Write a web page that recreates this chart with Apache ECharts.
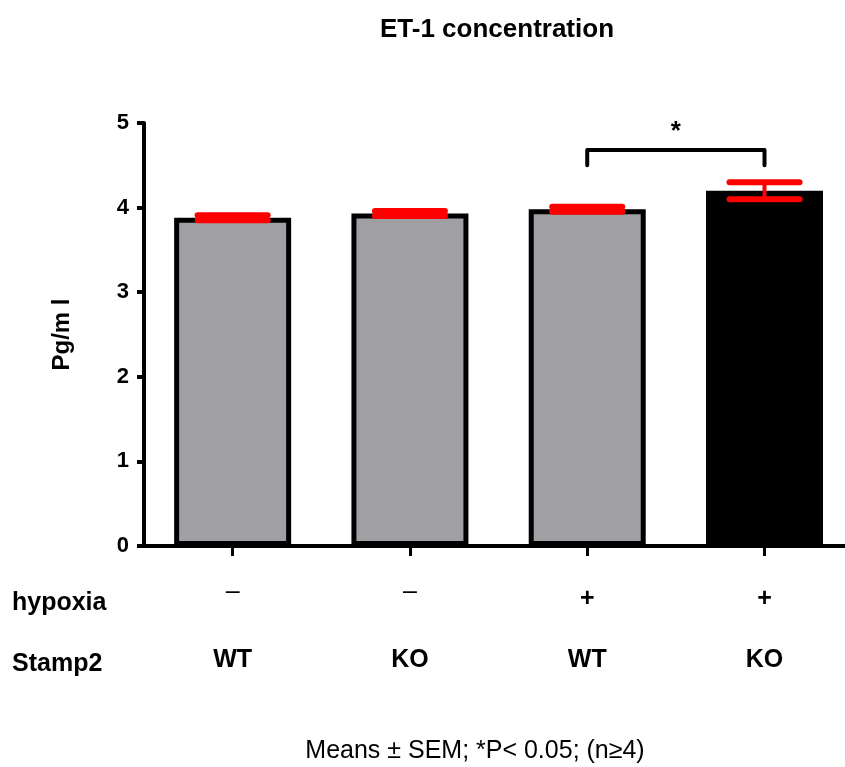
<!DOCTYPE html>
<html>
<head>
<meta charset="UTF-8">
<title>ET-1 concentration</title>
<script src="https://cdn.jsdelivr.net/npm/echarts@6/dist/echarts.min.js"></script>
<style>
  html, body {margin: 0; padding: 0; background: #fff;}
  #chart {width: 845px; height: 767px;}
</style>
</head>
<body>
<div id="chart"></div>
<script>
// data
const categories = ['WT -', 'KO -', 'WT +', 'KO +'];
const hypoxia = ['–', '–', '+', '+'];
const stamp2 = ['WT', 'KO', 'WT', 'KO'];
const means = [3.88, 3.93, 3.98, 4.20];
const sem = [0.03, 0.03, 0.03, 0.10];
const yTicks = [0, 1, 2, 3, 4, 5];
// significance bracket between bar 3 and bar 4
const bracketPair = [2, 3];
const bracketLevels = [4.50, 4.68];
const starLevel = 4.89;

const FONT = '"Liberation Sans", Arial, sans-serif';
const slots = categories.map((c, i) => i);

const chart = echarts.init(document.getElementById('chart'));

function errorItem(params, api) {
  const i = api.value(0);
  const lo = api.coord([i, api.value(1)]);
  const hi = api.coord([i, api.value(2)]);
  const hw = 35;
  const st = {stroke: '#ff0000', lineWidth: 6, lineCap: 'round'};
  return {
    type: 'group',
    children: [
      {type: 'line', shape: {x1: lo[0], y1: lo[1], x2: hi[0], y2: hi[1]}, style: {stroke: '#ff0000', lineWidth: 4}},
      {type: 'line', shape: {x1: hi[0] - hw, y1: hi[1], x2: hi[0] + hw, y2: hi[1]}, style: st},
      {type: 'line', shape: {x1: lo[0] - hw, y1: lo[1], x2: lo[0] + hw, y2: lo[1]}, style: st}
    ]
  };
}

function bracketItem(params, api) {
  const a = api.value(0), b = api.value(1);
  const foot = api.value(2), top = api.value(3), star = api.value(4);
  const p1 = api.coord([a, foot]), p2 = api.coord([a, top]);
  const p3 = api.coord([b, top]), p4 = api.coord([b, foot]);
  const s = api.coord([(a + b) / 2, star]);
  return {
    type: 'group',
    children: [
      {type: 'polyline', shape: {points: [p1, p2, p3, p4]},
       style: {stroke: '#000', lineWidth: 4, fill: null, lineJoin: 'round', lineCap: 'round'}},
      {type: 'text', style: {text: '*', x: s[0], y: s[1], fill: '#000',
        font: 'bold 26px ' + FONT, align: 'center', verticalAlign: 'middle'}}
    ]
  };
}

const option = {
  animation: false,
  backgroundColor: '#fff',
  textStyle: {fontFamily: FONT},
  title: {
    text: 'ET-1 concentration',
    left: 492,
    textAlign: 'center',
    top: 12,
    textStyle: {fontSize: 26, fontWeight: 'bold', color: '#000', fontFamily: FONT}
  },
  grid: {left: 144, right: 0, top: 123, bottom: 221, containLabel: false},
  xAxis: {
    type: 'value',
    min: -0.5,
    max: 3.454,
    splitLine: {show: false},
    axisLine: {onZero: true, lineStyle: {color: '#000', width: 4}},
    axisTick: {customValues: slots, length: 10, lineStyle: {color: '#000', width: 3}},
    axisLabel: {
      customValues: slots,
      margin: 33,
      formatter: v => {
        const i = Math.round(v);
        return '{' + (hypoxia[i] === '+' ? 'p' : 'm') + '|' + hypoxia[i] + '}\n{g|' + stamp2[i] + '}';
      },
      rich: {
        p: {fontSize: 25, fontWeight: 'bold', color: '#000', lineHeight: 40, fontFamily: FONT},
        m: {fontSize: 25, fontWeight: 'normal', color: '#000', lineHeight: 40, padding: [0, 0, 14, 0], fontFamily: FONT},
        g: {fontSize: 25, fontWeight: 'bold', color: '#000', lineHeight: 82, fontFamily: FONT}
      }
    }
  },
  yAxis: {
    type: 'value',
    min: yTicks[0],
    max: yTicks[yTicks.length - 1],
    interval: 1,
    name: 'Pg/m l',
    nameLocation: 'middle',
    nameGap: 70,
    nameRotate: 90,
    nameTextStyle: {fontSize: 24, fontWeight: 'bold', color: '#000', fontFamily: FONT},
    axisLine: {show: true, onZero: false, lineStyle: {color: '#000', width: 4}},
    axisTick: {show: true, length: 7, lineStyle: {color: '#000', width: 4}},
    axisLabel: {fontSize: 22, fontWeight: 'bold', color: '#000', margin: 15, fontFamily: FONT},
    splitLine: {show: false}
  },
  series: [
    {
      type: 'bar',
      data: means.map((m, i) => [slots[i], m]),
      barWidth: 117,
      itemStyle: {
        color: p => (p.dataIndex === 3 ? '#000000' : '#a09fa4'),
        borderColor: '#000',
        borderWidth: 5
      },
      z: 2
    },
    {
      type: 'custom',
      renderItem: errorItem,
      data: means.map((m, i) => [slots[i], m - sem[i], m + sem[i]]),
      encode: {x: 0, y: [1, 2]},
      z: 5
    },
    {
      type: 'custom',
      renderItem: bracketItem,
      data: [[bracketPair[0], bracketPair[1], bracketLevels[0], bracketLevels[1], starLevel]],
      encode: {x: 0, y: 2},
      z: 5
    }
  ],
  graphic: [
    {type: 'text', left: 12, top: 591, style: {text: 'hypoxia', font: 'bold 25px ' + FONT, fill: '#000'}},
    {type: 'text', left: 12, top: 652, style: {text: 'Stamp2', font: 'bold 25px ' + FONT, fill: '#000'}},
    {type: 'text', x: 475, y: 751, style: {text: 'Means ± SEM; *P< 0.05; (n≥4)', font: '25px ' + FONT, fill: '#000', align: 'center', verticalAlign: 'middle'}}
  ]
};

chart.setOption(option);
</script>
</body>
</html>
